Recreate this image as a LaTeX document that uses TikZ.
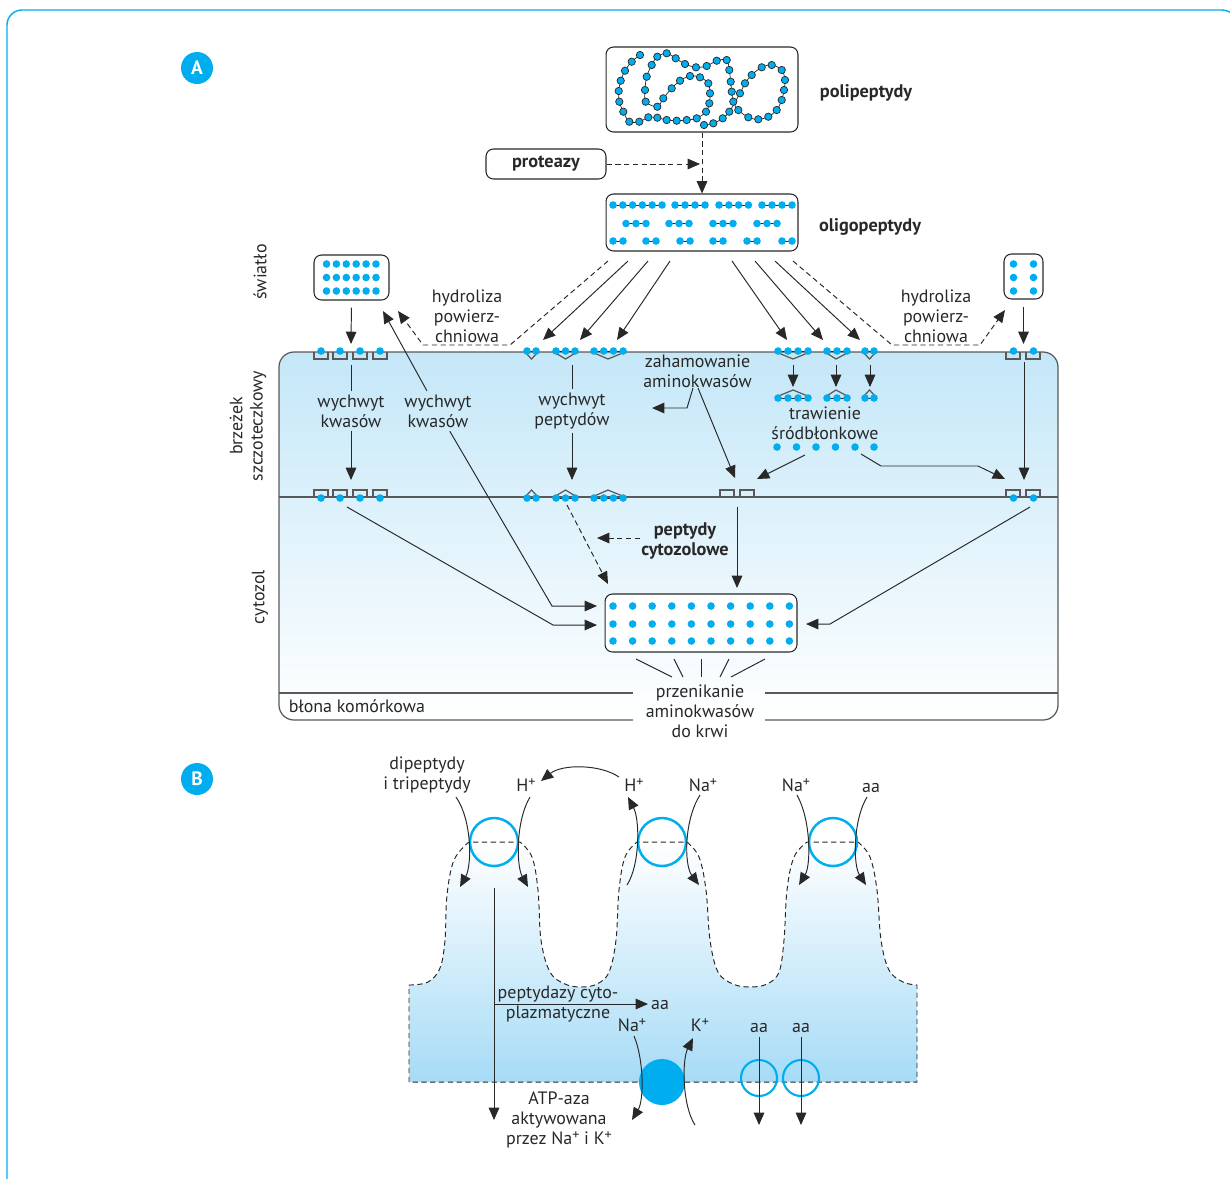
\documentclass[tikz,border=0pt]{standalone}
\usepackage{fontspec}
\setmainfont{PT Sans}
\usetikzlibrary{arrows.meta}

\definecolor{aablue}{RGB}{0,174,239}
\definecolor{cellblue}{RGB}{196,231,248}
\definecolor{villblue}{RGB}{166,219,246}
\definecolor{ink}{RGB}{40,40,40}

\newcommand\fsz{\fontsize{10.2}{11.4}\selectfont}
\newcommand\bsz{\fontsize{10.4}{11.4}\selectfont\bfseries}
% ion charge, e.g. \ion{Na}
\newcommand\ion[1]{#1\raisebox{0.6ex}{\fontsize{8}{8}\selectfont+}}

\tikzset{
  box/.style={draw=ink, line width=0.6pt, rounded corners=0.15cm, fill=white, inner sep=0pt},
  lbl/.style={align=center, inner sep=2pt},
  bfl/.style={lbl, font=\bsz},
  arr/.style={draw=ink, line width=0.55pt, -{Triangle[length=7pt,width=6pt]}},
  dasharr/.style={arr, dash pattern=on 3pt off 2pt},
  link/.style={draw=ink, line width=0.55pt},
  bond/.style={draw=ink, line width=0.4pt},
  memb/.style={draw=black!65, line width=0.7pt},
  frame/.style={draw=aablue, line width=0.8pt},
  badge/.style={circle, fill=aablue, text=white, minimum size=0.64cm, inner sep=0pt, font=\fontsize{11}{11}\selectfont\bfseries},
  carrier/.style={circle, draw=aablue, line width=1.4pt, minimum size=0.96cm, inner sep=0pt},
  villus/.style={draw=ink, line width=0.55pt, dash pattern=on 3pt off 2pt, top color=white, bottom color=villblue},
}

% one amino acid
\newcommand\aadot[2]{\fill[aablue] (#1,#2) circle (0.076cm);}
% short peptide: x, y, number of residues, spacing
\newcommand\pepgroup[4]{%
  \draw[bond] (#1,#2) -- ++({(#3-1)*#4},0);
  \foreach \k in {1,...,#3}{\fill[aablue] ({#1+(\k-1)*#4},#2) circle (0.076cm);}}
% amino acid carriers in the two membranes
\newcommand\cupdown[1]{\draw[memb] (#1,352) -- ++(0,7) -- ++(14,0) -- ++(0,-7);}
\newcommand\cupup[1]{\draw[memb] (#1,497) -- ++(0,-7) -- ++(14,0) -- ++(0,7);}
% peptidase / peptide carrier: left, apex, right, y
\newcommand\vdown[4]{\draw[memb] (#1,#4) -- (#2,{#4+7}) -- (#3,#4);}
\newcommand\vup[4]{\draw[memb] (#1,#4) -- (#2,{#4-7}) -- (#3,#4);}

\begin{document}
\begin{tikzpicture}[x=0.02cm, y=-0.02cm, font=\fsz, text=ink]
\useasboundingbox (0,0) rectangle (1230,1178);
\draw[frame, rounded corners=0.3cm] (7,1195) -- (7,10) -- (1237,10) -- (1237,1195);

\node[badge] (bA) at (197,68) {A};
\node[badge] (bB) at (197,779) {B};

%% ---------- A: lumen ----------
\node[box, minimum width=3.84cm, minimum height=1.7cm] (poly) at (702,89.5) {};
\draw[bond] plot[smooth, tension=0.55, mark=*, mark size=2.1pt, mark options={draw=none, fill=aablue}]
  coordinates {(640,55) (631.7,61.7) (625,70.7) (620.7,80.7) (618.7,91) (619.3,101.7) (623.3,111.7)
  (629.3,121.7) (639.3,121.7) (648.3,117.3) (657.3,117.7) (666.7,120) (676.7,120.7) (686.7,120)
  (696.7,118.3) (706,111.7) (709.3,103.3) (710,93.3) (708.3,83.3) (700,77.3) (690,76) (680,80.7)
  (671.7,88.3) (663.3,98.3) (657.3,106.7) (645.7,101.7) (645,90) (646.7,76.7) (651.7,65)
  (657.3,56.7) (666.7,53.3) (675.7,58.3) (685,64) (696,67.3) (706.7,66) (716.7,60.7) (726.7,60)
  (729.3,70) (730.7,81.7) (731.7,91.7) (733.3,101.7) (738.3,110) (748.3,117.3) (758.3,119.3)
  (768.3,116.7) (776.7,110) (781.7,100) (784,90) (785,80) (781.7,70) (771.7,65) (761.7,67.3)
  (751.7,75) (745,83.3) (740,93.3) (729.3,111.7) (722.7,118.3) (713.3,123.3) (704,125)};
\node[bfl] (polyl) at (866,93) {polipeptydy};

\node[box, minimum width=2.4cm, minimum height=0.6cm, font=\bsz] (prot) at (546,164) {proteazy};
\coordinate (protend) at (700,164);

\node[box, minimum width=3.84cm, minimum height=1.14cm] (oligo) at (702,222.5) {};
\pepgroup{613}{205}{6}{9.8} \pepgroup{675}{205}{4}{10} \pepgroup{719}{205}{4}{9.8} \pepgroup{762}{205}{4}{10}
\foreach \x in {626,669,713,757} {\pepgroup{\x}{223.5}{3}{10}}
\foreach \x in {613,646,680,713,747,782} {\pepgroup{\x}{241}{2}{10}}
\node[bfl] (oligol) at (870,227) {oligopeptydy};

\draw[dasharr] (poly) -- (oligo);
\draw[dasharr] (prot) -- (protend);

\node[box, minimum width=1.5cm, minimum height=0.9cm] (lumL) at (351.5,277.5) {};
\foreach \r in {264,277.5,291} \foreach \c in {0,...,5} {\aadot{326.5+9.9*\c}{\r}}
\node[box, minimum width=0.78cm, minimum height=0.9cm] (lumR) at (1023.5,276.5) {};
\foreach \r in {264,277.5,291} {\aadot{1013.5}{\r} \aadot{1033.5}{\r}}

%% ---------- A: cell ----------
\shade[top color=cellblue, bottom color=white, rounded corners=0.3cm] (279,352) rectangle (1058,720);
\draw[memb, rounded corners=0.3cm] (633,720) -- (279,720) -- (279,352) -- (1058,352) -- (1058,720) -- (765,720);
\draw[memb] (279,497) -- (1058,497);
\draw[memb] (279,693) -- (633,693) (765,693) -- (1058,693);

\foreach \x in {314,333,353,373} {\cupdown{\x} \cupup{\x} \aadot{\x+7}{351} \aadot{\x+7}{498}}
\foreach \x in {1006,1026} {\cupdown{\x} \cupup{\x} \aadot{\x+7.5}{351} \aadot{\x+7.5}{498}}
\foreach \x in {720,740} {\cupup{\x}}

% peptide carriers, brush border
\vdown{525}{531.5}{538}{352} \pepgroup{527}{351}{2}{9}
\vdown{554}{565.5}{577}{352} \pepgroup{556}{351}{3}{9.5}
\vdown{592}{608}{625}{352}   \pepgroup{594}{351}{4}{9.7}
\vup{525}{531.5}{538}{497} \pepgroup{527}{498}{2}{9}
\vup{554}{565.5}{577}{497} \pepgroup{556}{498}{3}{9.5}
\vup{592}{608}{625}{497}   \pepgroup{594}{498}{4}{9.7}
% brush border peptidases
\vdown{776}{793}{810}{352} \pepgroup{778}{351}{4}{10}
\vdown{825}{836}{849}{352} \pepgroup{827}{351}{3}{10}
\vdown{863}{869.5}{876}{352} \pepgroup{865}{351}{2}{9}
\vup{776}{793}{810}{397} \pepgroup{778}{398}{4}{10}
\vup{825}{836}{849}{397} \pepgroup{827}{398}{3}{10}
\vup{863}{869.5}{876}{397} \pepgroup{865}{398}{2}{9}
\foreach \x in {777,796.5,816,835.5,855,874} {\aadot{\x}{447}}

% fan of oligopeptides
\coordinate (o1) at (608,261); \coordinate (o2) at (628,261);
\coordinate (o3) at (648,261); \coordinate (o4) at (670,261);
\coordinate (o5) at (732,261); \coordinate (o6) at (755,261);
\coordinate (o7) at (775,261); \coordinate (o8) at (793,261);
\coordinate (tL1) at (543,340); \coordinate (tL2) at (580,340); \coordinate (tL3) at (617,340);
\coordinate (tR1) at (787,340); \coordinate (tR2) at (823,340); \coordinate (tR3) at (860,340);
\coordinate (hL) at (398,311); \coordinate (hR) at (1005,310);
\draw[arr] (o2) -- (tL1);
\draw[arr] (o3) -- (tL2);
\draw[arr] (o4) -- (tL3);
\draw[arr] (o5) -- (tR1);
\draw[arr] (o6) -- (tR2);
\draw[arr] (o7) -- (tR3);
\draw[dasharr] (o1) -- (510,345) -- (423,345) -- (hL);
\draw[dasharr] (o8) -- (892,345) -- (980,345) -- (hR);
\node[lbl] (hydL) at (467,316) {hydroliza\\powierz-\\chniowa};
\node[lbl] (hydR) at (936,316) {hydroliza\\powierz-\\chniowa};

% uptake
\node[lbl] (wk1) at (351,411) {wychwyt\\kwasów};
\node[lbl] (wk2) at (438,411) {wychwyt\\kwasów};
\node[lbl] (wp) at (572,411) {wychwyt\\peptydów};
\coordinate (trLa) at (351,344); \coordinate (trLb) at (351,365); \coordinate (trLc) at (351,480);
\coordinate (trPa) at (572,365); \coordinate (trPb) at (572,480);
\coordinate (trRa) at (1023.5,344); \coordinate (trRb) at (1024,362); \coordinate (trRc) at (1024,480);
\coordinate (back) at (383,311);
\draw[arr, shorten <=0.14cm] (lumL.south) -- (trLa);
\draw[link] (trLb) -- (wk1);
\draw[arr] (wk1) -- (trLc);
\draw[arr] (wk2) -- (back);
\draw[link] (trPa) -- (wp);
\draw[arr] (wp) -- (trPb);
\draw[arr, shorten <=0.14cm] (lumR.south) -- (trRa);
\draw[arr] (trRb) -- (trRc);

% inhibition and endothelial digestion
\node[lbl] (zah) at (697.5,371.5) {zahamowanie\\aminokwasów};
\coordinate (za1) at (693,388); \coordinate (za2) at (698,388);
\coordinate (zaL) at (652,408); \coordinate (zaT) at (735,478);
\draw[arr] (za1) -- (687,408) -- (zaL);
\draw[arr] (za2) -- (zaT);
\foreach \x in {793,836,870} {\draw[arr] (\x,365) -- (\x,387);}
\node[lbl] (traw) at (825,423) {trawienie\\śródbłonkowe};
\coordinate (tw1) at (805,455); \coordinate (tw1e) at (757,479);
\coordinate (tw2) at (861,454); \coordinate (tw2e) at (1005,479);
\draw[arr] (tw1) -- (tw1e);
\draw[arr] (tw2) -- (881,466) -- (978,466) -- (tw2e);

%% ---------- A: cytosol ----------
\node[box, minimum width=3.84cm, minimum height=1.16cm] (cyto) at (701,623) {};
\foreach \r in {606,624,641} \foreach \c in {0,...,9} {\aadot{613+19.6*\c}{\r}}

\coordinate (pd1) at (567,505); \coordinate (pd2) at (608,584);
\coordinate (cwA) at (597,606); \coordinate (cwB) at (597,625); \coordinate (ceA) at (806,624);
\coordinate (mid1) at (737,507); \coordinate (mid2) at (737,588);
\coordinate (lt) at (347,507); \coordinate (rt) at (1030,507);
\draw[dasharr] (pd1) -- (pd2);
\node[bfl] (pc) at (685,541) {peptydy\\cytozolowe};
\coordinate (pcw) at (640,538); \coordinate (pce) at (597,538);
\draw[dasharr] (pcw) -- (pce);
\draw[arr] (mid1) -- (mid2);
\draw[arr] (wk2) -- (552,606) -- (cwA);
\draw[arr] (lt) -- (553,625) -- (cwB);
\draw[arr] (rt) -- (830,624) -- (ceA);

\foreach \a/\b in {636/672, 674/683, 701/701, 729/720, 765/731} {\draw[link] (\a,659) -- (\b,677);}
\node[lbl] (przen) at (700,711) {przenikanie\\aminokwasów\\do krwi};
\node[lbl, anchor=west] (blona) at (285,706) {błona komórkowa};

\node[lbl, rotate=90] (lum) at (260,272) {światło};
\node[lbl, rotate=90] (brush) at (248,426) {brzeżek\\szczoteczkowy};
\node[lbl, rotate=90] (cytl) at (260,597) {cytozol};

%% ---------- B ----------
\shadedraw[villus] (409,1082) -- (409,985)
  -- plot[smooth, tension=0.6] coordinates {(410,985) (428,982) (440,968) (445,940) (447,895) (454,860) (469,842)}
  -- (519,842)
  -- plot[smooth, tension=0.6] coordinates {(520,842) (532,857) (538,890) (541,940) (550,972) (565,984) (581,987) (597,984) (609,972) (616,940) (619,890) (625,857) (637,842)}
  -- (686,842)
  -- plot[smooth, tension=0.6] coordinates {(687,842) (699,857) (706,890) (710,940) (718,972) (733,984) (750,987) (767,984) (779,972) (784,940) (787,890) (794,857) (807,842)}
  -- (857,842)
  -- plot[smooth, tension=0.6] coordinates {(858,842) (870,857) (877,890) (881,940) (889,970) (903,982) (917,985)}
  -- (917,1082) -- cycle;

\node[carrier] (tp1) at (494,842) {};
\node[carrier] (tp2) at (662,842) {};
\node[carrier] (tp3) at (833,842) {};
\node[circle, fill=aablue, minimum size=0.92cm, inner sep=0pt] (pump) at (662,1082) {};
\node[carrier, minimum size=0.72cm, line width=1.2pt] (aab1) at (759,1078) {};
\node[carrier, minimum size=0.72cm, line width=1.2pt] (aab2) at (801,1078) {};

\node[lbl] (dit) at (427,775) {dipeptydy\\i tripeptydy};
\node[lbl] (h1) at (526,785) {\ion{H}};
\node[lbl] (h2) at (634,785) {\ion{H}};
\node[lbl] (na1) at (703,785) {\ion{Na}};
\node[lbl] (na2) at (796,785) {\ion{Na}};
\node[lbl] (aa1) at (871,788) {aa};

\draw[arr] (456,797) .. controls (472,820) and (472,865) .. (460,887);
\draw[arr] (530,797) .. controls (516,820) and (516,865) .. (528,887);
\draw[arr] (619,777) .. controls (600,764) and (562,764) .. (541,781);
\draw[arr] (627,885) .. controls (640,865) and (640,820) .. (628,797);
\draw[arr] (700,795) .. controls (684,820) and (684,865) .. (699,885);
\draw[arr] (797,795) .. controls (811,820) and (811,865) .. (799,885);
\draw[arr] (867,797) .. controls (853,820) and (853,865) .. (866,885);

\coordinate (pep1) at (494,888); \coordinate (pep2) at (494,1120);
\coordinate (pep3) at (494,1004); \coordinate (pep4) at (648,1004);
\draw[arr] (pep1) -- (pep2);
\draw[arr] (pep3) -- (pep4);
\node[lbl] (cytp) at (558,1004) {peptydazy cyto-\\plazmatyczne};
\node[lbl] (aa2) at (660,1005) {aa};

\node[lbl] (na3) at (632,1025) {\ion{Na}};
\node[lbl] (k1) at (700,1025) {\ion{K}};
\draw[arr] (634,1036) .. controls (644,1060) and (644,1100) .. (632,1120);
\draw[arr] (695,1125) .. controls (682,1105) and (682,1060) .. (693,1038);
\node[lbl] (atp) at (559,1120) {ATP-aza\\aktywowana\\przez \ion{Na} i \ion{K}};

\node[lbl] (aa3) at (759,1028) {aa};
\node[lbl] (aa4) at (801,1028) {aa};
\draw[arr] (aa3) -- (759,1125);
\draw[arr] (aa4) -- (801,1125);
\end{tikzpicture}
\end{document}
